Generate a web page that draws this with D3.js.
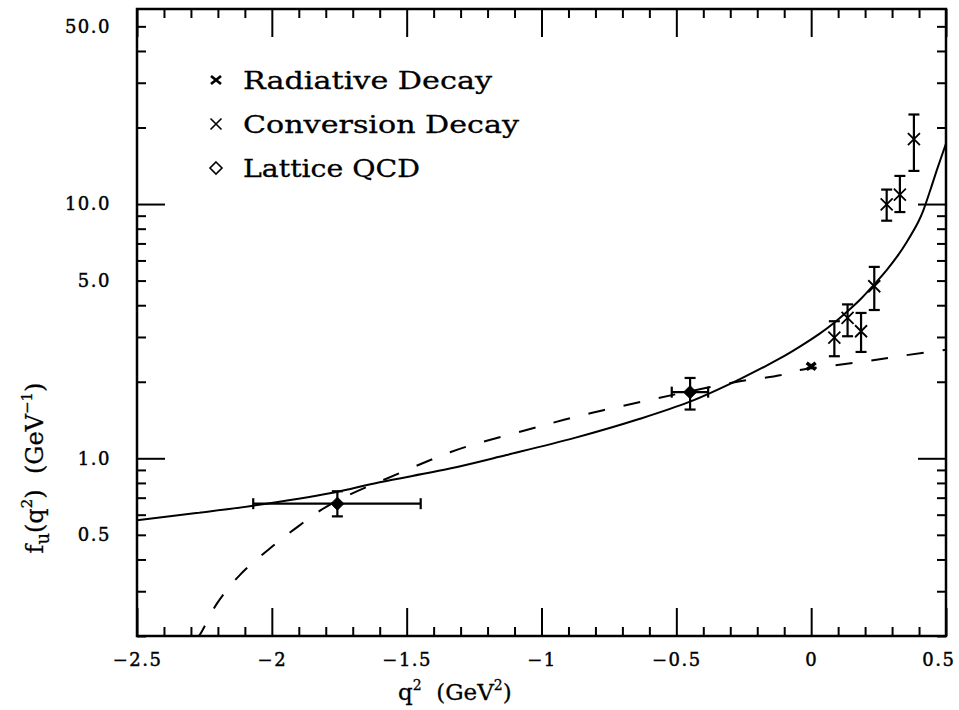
<!DOCTYPE html>
<html>
<head>
<meta charset="utf-8">
<script src="https://cdn.jsdelivr.net/npm/d3@7"></script>
<style>
  html, body { margin: 0; padding: 0; background: #fff; }
  svg { display: block; }
  text { font-family: "DejaVu Serif", serif; fill: #000; }
</style>
</head>
<body>
<script>
// ---------------- data ----------------
// Solid curve (q^2 in GeV^2, f_u in GeV^-1)
const solidQ = [-2.50, -2.28, -2.07, -1.78, -1.60, -1.34, -1.13, -0.88, -0.635, -0.45, -0.264, -0.116,
                -0.042, 0.033, 0.082, 0.132, 0.181, 0.230, 0.280, 0.317, 0.354, 0.397, 0.416, 0.440, 0.465, 0.500];
const solidF = [0.571, 0.609, 0.651, 0.730, 0.805, 0.911, 1.03, 1.20, 1.43, 1.67, 2.05, 2.47,
                2.75, 3.10, 3.39, 3.76, 4.20, 4.78, 5.50, 6.18, 7.08, 8.50, 9.45, 11.2, 13.5, 17.3];
// Dashed curve
const dashedQ = [-2.285, -2.272, -2.202, -2.118, -2.013, -1.902, -1.784, -1.525, -1.339, -1.253, -1.049,
                 -0.913, -0.771, -0.628, -0.487, -0.264, -0.116, -0.066, 0.206, 0.348, 0.500];
const dashedF = [0.195, 0.199, 0.270, 0.348, 0.437, 0.540, 0.658, 0.876, 1.056, 1.132, 1.297,
                 1.42, 1.545, 1.67, 1.80, 2.01, 2.12, 2.20, 2.41, 2.54, 2.67];
// Radiative decay
const radQ = [0.0];
const radF = [2.30];
// Conversion decay
const convQ  = [0.086, 0.135, 0.185, 0.234, 0.280, 0.329, 0.381];
const convF  = [2.98, 3.57, 3.16, 4.75, 9.97, 10.9, 18.0];
const convLo = [2.52, 3.02, 2.62, 3.83, 8.6, 9.3, 13.5];
const convHi = [3.46, 4.03, 3.73, 5.66, 11.4, 12.9, 22.5];
// Lattice QCD
const latQ   = [-1.757, -0.449];
const latF   = [0.663, 1.82];
const latQlo = [-2.069, -0.517];
const latQhi = [-1.448, -0.382];
const latFlo = [0.591, 1.555];
const latFhi = [0.742, 2.07];
// Ticks
const xTickValues = [-2.5, -2, -1.5, -1, -0.5, 0, 0.5];
const xTickLabels = ["\u22122.5", "\u22122", "\u22121.5", "\u22121", "\u22120.5", "0", "0.5"];
const yTickValues = [0.5, 1, 5, 10, 50];
const yTickLabels = ["0.5", "1.0", "5.0", "10.0", "50.0"];
const yMajorTicks = [1, 10];
const legendLabels = ["Radiative Decay", "Conversion Decay", "Lattice QCD"];

// ---------------- layout ----------------
const W = 959, H = 710;
const L = 137, R = 946, T = 9, B = 636;

const svg = d3.select("body").append("svg").attr("width", W).attr("height", H);

const x = d3.scaleLinear().domain([-2.5, 0.5]).range([L, R]);
const y = d3.scaleLog().domain([0.2, 58.5]).range([B, T]);

// clip
svg.append("defs").append("clipPath").attr("id", "clip")
  .append("rect").attr("x", L).attr("y", T).attr("width", R - L).attr("height", B - T);

// ---------------- ticks ----------------
const xMinor = d3.range(-2.4, 0.45, 0.1).map(v => Math.round(v * 10) / 10)
  .filter(v => !xTickValues.some(t => Math.abs(t - v) < 1e-6));
const yMinor = [].concat(d3.range(2, 10).map(v => v / 10), d3.range(2, 10), d3.range(2, 6).map(v => v * 10));

function styleAxis(g) {
  g.select(".domain").remove();
  g.selectAll("line").attr("stroke", "#000").attr("stroke-width", 2);
  g.selectAll("text").remove();
}

// bottom
svg.append("g").attr("transform", `translate(0,${B})`)
  .call(d3.axisBottom(x).tickValues(xMinor).tickSize(-9)).call(styleAxis);
svg.append("g").attr("transform", `translate(0,${B})`)
  .call(d3.axisBottom(x).tickValues(xTickValues).tickSize(-28)).call(styleAxis);
// top
svg.append("g").attr("transform", `translate(0,${T})`)
  .call(d3.axisTop(x).tickValues(xMinor).tickSize(-9)).call(styleAxis);
svg.append("g").attr("transform", `translate(0,${T})`)
  .call(d3.axisTop(x).tickValues(xTickValues).tickSize(-28)).call(styleAxis);
// left
svg.append("g").attr("transform", `translate(${L},0)`)
  .call(d3.axisLeft(y).tickValues(yMinor).tickSize(-9)).call(styleAxis);
svg.append("g").attr("transform", `translate(${L},0)`)
  .call(d3.axisLeft(y).tickValues(yMajorTicks).tickSize(-28)).call(styleAxis);
// right
svg.append("g").attr("transform", `translate(${R},0)`)
  .call(d3.axisRight(y).tickValues(yMinor).tickSize(-9)).call(styleAxis);
svg.append("g").attr("transform", `translate(${R},0)`)
  .call(d3.axisRight(y).tickValues(yMajorTicks).tickSize(-28)).call(styleAxis);

// tick labels
const xl = svg.append("g").attr("transform", `translate(0,${B})`)
  .call(d3.axisBottom(x).tickValues(xTickValues).tickSize(0).tickPadding(17)
        .tickFormat((d, i) => xTickLabels[i]));
xl.select(".domain").remove();
xl.selectAll("text").attr("font-family", "DejaVu Serif").attr("font-size", 18)
  .attr("letter-spacing", 1.5).attr("fill", "#000").attr("stroke", "#000").attr("stroke-width", 0.45);
// last label sits inside the window edge
xl.selectAll(".tick").filter(d => d === 0.5).select("text")
  .attr("text-anchor", "end").attr("dx", 9);

const yl = svg.append("g").attr("transform", `translate(${L},0)`)
  .call(d3.axisLeft(y).tickValues(yTickValues).tickSize(0).tickPadding(26)
        .tickFormat((d, i) => yTickLabels[i]));
yl.select(".domain").remove();
yl.selectAll("text").attr("font-family", "DejaVu Serif").attr("font-size", 18)
  .attr("letter-spacing", 1.5).attr("fill", "#000").attr("stroke", "#000").attr("stroke-width", 0.45);

// frame
svg.append("rect").attr("x", L).attr("y", T).attr("width", R - L).attr("height", B - T)
  .attr("fill", "none").attr("stroke", "#000").attr("stroke-width", 2.5);

// ---------------- curves ----------------
const plot = svg.append("g").attr("clip-path", "url(#clip)");
const line = d3.line().x(d => x(d[0])).y(d => y(d[1])).curve(d3.curveCatmullRom.alpha(0.5));

plot.append("path").datum(solidQ.map((q, i) => [q, solidF[i]]))
  .attr("d", line).attr("fill", "none").attr("stroke", "#000").attr("stroke-width", 2);
plot.append("path").datum(dashedQ.map((q, i) => [q, dashedF[i]]))
  .attr("d", line).attr("fill", "none").attr("stroke", "#000").attr("stroke-width", 2)
  .attr("stroke-dasharray", "17,19");

// ---------------- markers ----------------
const cap = 5.5;
// conversion decay error bars + ×
convQ.forEach((q, i) => {
  const cx = x(q), cy = y(convF[i]), y1 = y(convHi[i]), y2 = y(convLo[i]);
  plot.append("line").attr("x1", cx).attr("x2", cx).attr("y1", y1).attr("y2", y2)
    .attr("stroke", "#000").attr("stroke-width", 2.2);
  [y1, y2].forEach(yy => plot.append("line").attr("x1", cx - cap).attr("x2", cx + cap)
    .attr("y1", yy).attr("y2", yy).attr("stroke", "#000").attr("stroke-width", 2.2));
  const s = 6;
  plot.append("path").attr("d", `M${cx - s},${cy - s}L${cx + s},${cy + s}M${cx - s},${cy + s}L${cx + s},${cy - s}`)
    .attr("stroke", "#000").attr("stroke-width", 1.8).attr("fill", "none");
});
// radiative decay (bold x)
radQ.forEach((q, i) => {
  const cx = x(q), cy = y(radF[i]), s = 4.5;
  plot.append("path").attr("d", `M${cx - s},${cy - s * 0.75}L${cx + s},${cy + s * 0.75}M${cx - s},${cy + s * 0.75}L${cx + s},${cy - s * 0.75}`)
    .attr("stroke", "#000").attr("stroke-width", 3.5).attr("fill", "none");
});
// lattice QCD
latQ.forEach((q, i) => {
  const cx = x(q), cy = y(latF[i]);
  const xa = x(latQlo[i]), xb = x(latQhi[i]), ya = y(latFhi[i]), yb = y(latFlo[i]);
  plot.append("line").attr("x1", xa).attr("x2", xb).attr("y1", cy).attr("y2", cy)
    .attr("stroke", "#000").attr("stroke-width", 2.2);
  plot.append("line").attr("x1", cx).attr("x2", cx).attr("y1", ya).attr("y2", yb)
    .attr("stroke", "#000").attr("stroke-width", 2.2);
  [xa, xb].forEach(xx => plot.append("line").attr("x1", xx).attr("x2", xx)
    .attr("y1", cy - cap).attr("y2", cy + cap).attr("stroke", "#000").attr("stroke-width", 2.2));
  [ya, yb].forEach(yy => plot.append("line").attr("x1", cx - cap).attr("x2", cx + cap)
    .attr("y1", yy).attr("y2", yy).attr("stroke", "#000").attr("stroke-width", 2.2));
  const s = 6.5;
  plot.append("path").attr("d", `M${cx},${cy - s}L${cx + s},${cy}L${cx},${cy + s}L${cx - s},${cy}Z`)
    .attr("fill", "#000").attr("stroke", "#000").attr("stroke-width", 1);
});

// ---------------- legend ----------------
const legY = [80, 124, 168];
const lgx = 216;
{
  let cx = lgx, cy = legY[0], s = 5;
  svg.append("path").attr("d", `M${cx - s},${cy - s * 0.8}L${cx + s},${cy + s * 0.8}M${cx - s},${cy + s * 0.8}L${cx + s},${cy - s * 0.8}`)
    .attr("stroke", "#000").attr("stroke-width", 2.8).attr("fill", "none");
  cy = legY[1]; s = 5.5;
  svg.append("path").attr("d", `M${cx - s},${cy - s}L${cx + s},${cy + s}M${cx - s},${cy + s}L${cx + s},${cy - s}`)
    .attr("stroke", "#000").attr("stroke-width", 1.6).attr("fill", "none");
  cy = legY[2]; s = 6;
  svg.append("path").attr("d", `M${cx},${cy - s}L${cx + s},${cy}L${cx},${cy + s}L${cx - s},${cy}Z`)
    .attr("stroke", "#000").attr("stroke-width", 1.6).attr("fill", "none");
}
const legWidths = [249, 276, 177];
legendLabels.forEach((t, i) => {
  svg.append("text").attr("x", 243).attr("y", legY[i] + 9).attr("font-size", 25)
    .attr("textLength", legWidths[i]).attr("lengthAdjust", "spacingAndGlyphs")
    .attr("stroke", "#000").attr("stroke-width", 0.3)
    .text(t);
});

// ---------------- axis titles ----------------
const xt = svg.append("text").attr("x", 398).attr("y", 700).attr("font-size", 23)
  .attr("stroke", "#000").attr("stroke-width", 0.3);
xt.append("tspan").text("q");
xt.append("tspan").attr("dy", -10).attr("font-size", 14).text("2");
xt.append("tspan").attr("dy", 10).text("\u00a0\u00a0(GeV");
xt.append("tspan").attr("dy", -10).attr("font-size", 14).text("2");
xt.append("tspan").attr("dy", 10).text(")");

const yt = svg.append("text").attr("transform", "translate(43,468) rotate(-90)")
  .attr("text-anchor", "middle").attr("font-size", 24)
  .attr("stroke", "#000").attr("stroke-width", 0.3);
yt.append("tspan").text("f");
yt.append("tspan").attr("dy", 6).attr("font-size", 18).text("u");
yt.append("tspan").attr("dy", -6).text("(q");
yt.append("tspan").attr("dy", -11).attr("font-size", 15).text("2");
yt.append("tspan").attr("dy", 11).text(")\u00a0\u00a0(GeV");
yt.append("tspan").attr("dy", -11).attr("font-size", 15).text("\u22121");
yt.append("tspan").attr("dy", 11).text(")");
</script>
</body>
</html>
